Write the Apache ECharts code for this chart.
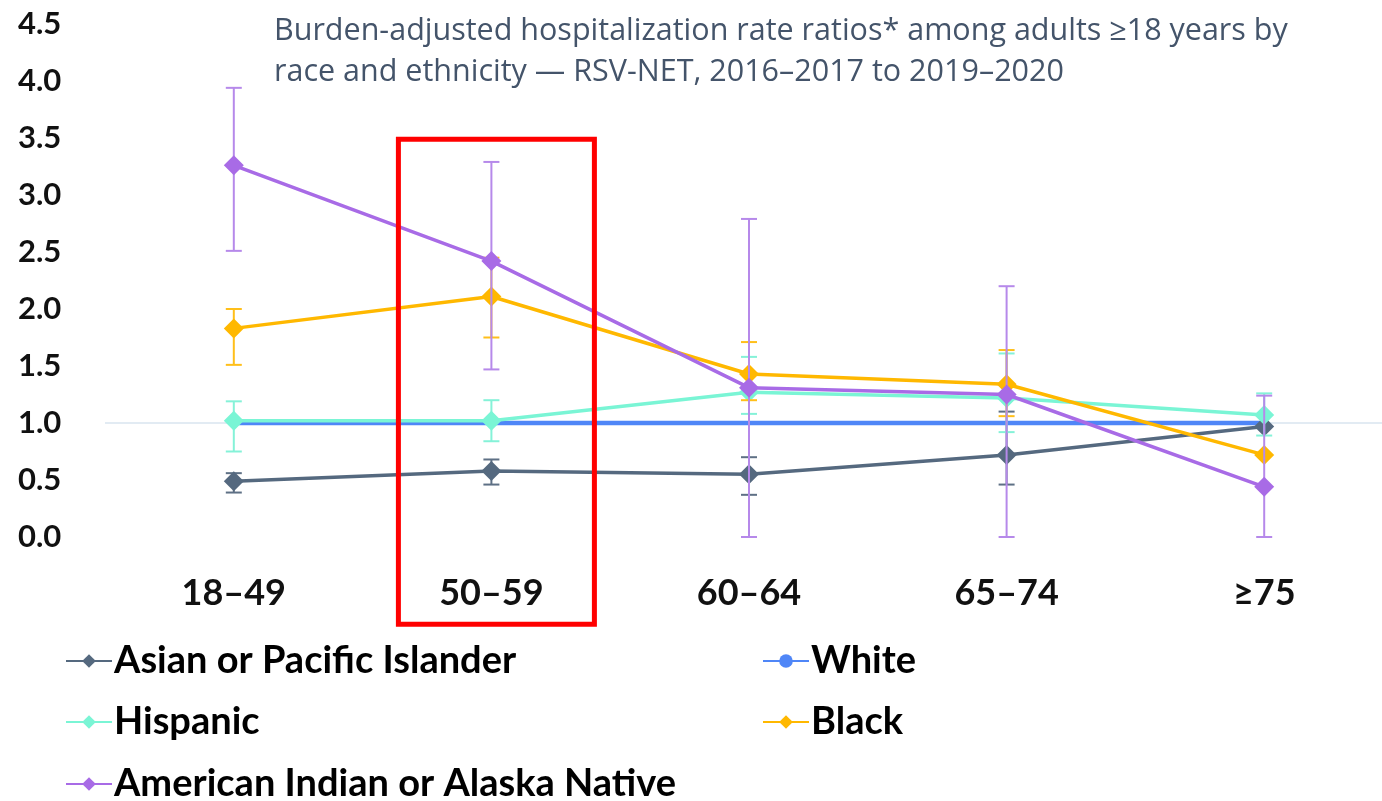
<!DOCTYPE html>
<html>
<head>
<meta charset="utf-8">
<script src="https://cdn.jsdelivr.net/npm/echarts@6/dist/echarts.min.js"></script>
<style>
html,body{margin:0;padding:0;background:#fff;overflow:hidden;}
#chart{width:1393px;height:801px;}
</style>
</head>
<body>
<div id="chart"></div>
<script>
var categories = ['18\u201349', '50\u201359', '60\u201364', '65\u201374', '\u226575'];
var yTicks = [0, 0.5, 1, 1.5, 2, 2.5, 3, 3.5, 4, 4.5];

var asian = [0.49, 0.58, 0.55, 0.72, 0.97];
var asianLow = [0.39, 0.46, 0.37, 0.46, null];
var asianHigh = [0.56, 0.68, 0.70, 1.10, null];

var white = [1.0, 1.0, 1.0, 1.0, 1.0];

var hispanic = [1.02, 1.02, 1.27, 1.22, 1.07];
var hispanicLow = [0.75, 0.84, 1.08, 0.92, 0.89];
var hispanicHigh = [1.19, 1.20, 1.58, 1.61, 1.26];

var black = [1.83, 2.11, 1.43, 1.34, 0.72];
var blackLow = [1.51, 1.75, 1.20, 1.06, null];
var blackHigh = [2.00, 2.45, 1.71, 1.64, null];

var aian = [3.26, 2.42, 1.31, 1.25, 0.44];
var aianLow = [2.51, 1.47, 0.00, 0.00, 0.00];
var aianHigh = [3.94, 3.29, 2.79, 2.20, 1.24];

var colors = {
  'Asian or Pacific Islander': '#55697f',
  'White': '#4f86f7',
  'Hispanic': '#7af5d5',
  'Black': '#ffb800',
  'American Indian or Alaska Native': '#a86be6'
};
var barColors = {
  'Asian or Pacific Islander': '#5e7085',
  'Hispanic': '#85f2d8',
  'Black': '#ffbf1a',
  'American Indian or Alaska Native': '#b689ea'
};

function errorSeries(name, low, high, z) {
  var data = [];
  for (var i = 0; i < categories.length; i++) {
    if (low[i] !== null && high[i] !== null) data.push([i, low[i], high[i]]);
  }
  return {
    type: 'custom',
    name: name + ' err',
    silent: true,
    z: z,
    data: data,
    encode: { x: 0, y: [1, 2] },
    renderItem: function (params, api) {
      var x = api.value(0);
      var lo = api.coord([x, api.value(1)]);
      var hi = api.coord([x, api.value(2)]);
      var hw = 8;
      var st = { stroke: barColors[name], lineWidth: 2 };
      return {
        type: 'group',
        children: [
          { type: 'line', shape: { x1: lo[0], y1: lo[1], x2: hi[0], y2: hi[1] }, style: st },
          { type: 'line', shape: { x1: lo[0] - hw, y1: lo[1], x2: lo[0] + hw, y2: lo[1] }, style: st },
          { type: 'line', shape: { x1: hi[0] - hw, y1: hi[1], x2: hi[0] + hw, y2: hi[1] }, style: st }
        ]
      };
    }
  };
}

function lineSeries(name, data, z, extra) {
  var s = {
    type: 'line',
    name: name,
    data: data,
    z: z,
    symbol: 'diamond',
    symbolSize: 20,
    showAllSymbol: true,
    itemStyle: { color: colors[name] },
    lineStyle: { color: colors[name], width: 3.5 },
    emphasis: { disabled: true },
    animation: false
  };
  if (extra) for (var k in extra) s[k] = extra[k];
  return s;
}

function legendItem(name, left, centerY) {
  return {
    data: [name],
    left: left,
    top: centerY - 21,
    padding: 0,
    itemWidth: 46,
    itemHeight: 17,
    itemGap: 0,
    selectedMode: false,
    textStyle: { fontFamily: 'Lato', fontSize: 38, fontWeight: 'bold', color: '#000000', lineHeight: 42, padding: [0, 0, 0, -3] }
  };
}

var chart = echarts.init(document.getElementById('chart'), null, { renderer: 'canvas' });

var option = {
  animation: false,
  backgroundColor: '#ffffff',
  title: {
    text: 'Burden-adjusted hospitalization rate ratios* among adults \u226518 years by\nrace and ethnicity \u2014 RSV-NET, 2016\u20132017 to 2019\u20132020',
    left: 274,
    top: 11,
    padding: 0,
    textStyle: {
      fontFamily: 'Open Sans',
      fontSize: 30.5,
      fontWeight: 'normal',
      color: '#44546a',
      lineHeight: 41
    }
  },
  grid: { left: 105, top: 24, right: 0, height: 513, containLabel: false },
  xAxis: {
    type: 'category',
    data: categories,
    boundaryGap: true,
    axisLine: { show: false },
    axisTick: { show: false },
    splitLine: { show: false },
    axisLabel: {
      margin: 38,
      fontFamily: 'Lato',
      fontSize: 36,
      fontWeight: 'bold',
      color: '#111111'
    }
  },
  yAxis: {
    type: 'value',
    min: 0,
    max: 4.5,
    interval: 0.5,
    axisLine: { show: false },
    axisTick: { show: false },
    splitLine: { show: false },
    axisLabel: {
      align: 'left',
      margin: 87,
      fontFamily: 'Lato',
      fontSize: 31,
      fontWeight: 'bold',
      color: '#111111',
      formatter: function (v) { return yTicks.indexOf(v) >= 0 ? v.toFixed(1) : ''; }
    }
  },
  legend: [
    legendItem('Asian or Pacific Islander', 65, 661),
    legendItem('Hispanic', 65, 722),
    legendItem('American Indian or Alaska Native', 65, 784),
    legendItem('White', 762, 661),
    legendItem('Black', 762, 722)
  ],
  series: [
    lineSeries('White', white, 2, {
      symbol: 'circle',
      symbolSize: 4,
      lineStyle: { color: colors['White'], width: 4.5 },
      markLine: {
        silent: true,
        symbol: 'none',
        label: { show: false },
        lineStyle: { color: '#d9e4ef', width: 1.5, type: 'solid' },
        data: [{ yAxis: 1 }],
        z: 1
      }
    }),
    errorSeries('Asian or Pacific Islander', asianLow, asianHigh, 3),
    lineSeries('Asian or Pacific Islander', asian, 4),
    errorSeries('Hispanic', hispanicLow, hispanicHigh, 5),
    lineSeries('Hispanic', hispanic, 6),
    errorSeries('Black', blackLow, blackHigh, 7),
    lineSeries('Black', black, 8),
    errorSeries('American Indian or Alaska Native', aianLow, aianHigh, 9),
    lineSeries('American Indian or Alaska Native', aian, 10)
  ]
};

chart.setOption(option);

// Red highlight box around the 50–59 category
var cx = chart.convertToPixel({ xAxisIndex: 0 }, categories[1]);
var yTop = chart.convertToPixel({ yAxisIndex: 0 }, 3.49);
chart.setOption({
  graphic: [{
    type: 'rect',
    z: 100,
    silent: true,
    shape: { x: cx - 93, y: yTop, width: 196, height: 485 },
    style: { fill: 'none', stroke: '#ff0000', lineWidth: 5 }
  }]
});
</script>
</body>
</html>
